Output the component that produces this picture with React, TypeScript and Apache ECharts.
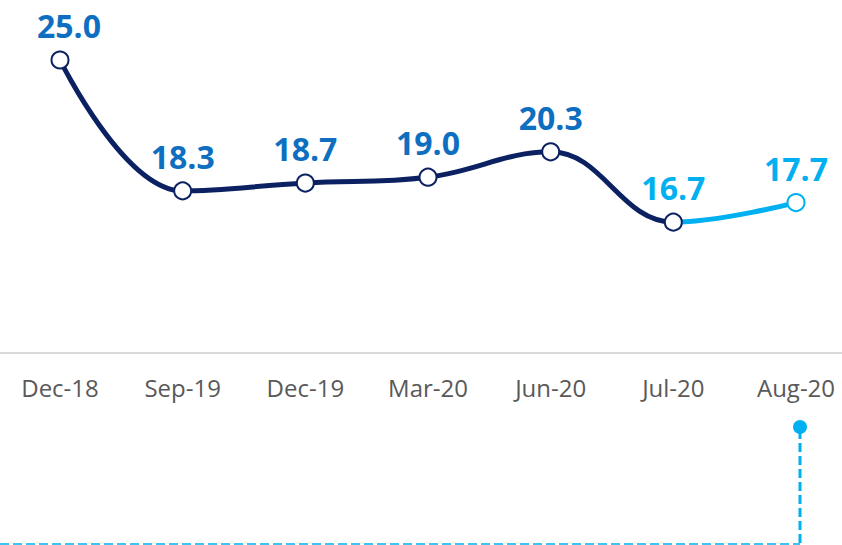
import React, { useEffect, useRef } from "react";
import * as echarts from "echarts";

const categories = ["Dec-18", "Sep-19", "Dec-19", "Mar-20", "Jun-20", "Jul-20", "Aug-20"];
const values = [25.0, 18.3, 18.7, 19.0, 20.3, 16.7, 17.7];
const highlightFrom = 5; // Jul-20 onwards labels in light blue, line segment after index 5 light blue

const NAVY = "#0b2161";
const LIGHT = "#00b0f0";
const LABEL_DARK = "#0e6fc1";

export default function App() {
  const ref = useRef<HTMLDivElement>(null);
  useEffect(() => {
    document.body.style.margin = "0";
    const chart = echarts.init(ref.current!, undefined, { renderer: "svg" });
    chart.setOption({
      animation: false,
      grid: { left: 60, right: 46, top: 60, bottom: 192, containLabel: false },
      xAxis: {
        type: "category",
        data: categories,
        boundaryGap: false,
        axisLine: { show: false },
        axisTick: { show: false },
        axisLabel: {
          color: "#595959",
          fontFamily: "Open Sans",
          fontSize: 24,
          margin: 22,
        },
        splitLine: { show: false },
      },
      yAxis: { type: "value", min: 10, max: 25, show: false, splitLine: { show: false } },
      visualMap: {
        show: false,
        dimension: 0,
        pieces: [
          { lt: highlightFrom, color: NAVY },
          { gte: highlightFrom, lte: highlightFrom, color: NAVY },
          { gt: highlightFrom, color: LIGHT },
        ],
      },
      series: [
        {
          type: "line",
          smooth: 0.4,
          clip: false,
          data: values.map((v, i) => ({
            value: v,
            label: {
              color: i >= highlightFrom ? LIGHT : LABEL_DARK,
              offset: i === 0 ? [9, 0] : [0, 0],
            },
          })),
          lineStyle: { width: 5 },
          symbol: "emptyCircle",
          symbolSize: 17,
          itemStyle: { borderWidth: 3 },
          label: {
            show: true,
            position: "top",
            distance: 9,
            fontFamily: "Open Sans",
            fontWeight: "bold",
            fontSize: 32,
            formatter: (p: any) => Number(p.value).toFixed(1),
          },
          z: 3,
        },
      ],
      graphic: [
        {
          type: "line",
          z: 0,
          shape: { x1: 0, y1: 353, x2: 842, y2: 353 },
          style: { stroke: "#d9d9d9", lineWidth: 2 },
        },
        { type: "circle", shape: { cx: 800, cy: 427, r: 7 }, style: { fill: LIGHT } },
        {
          type: "line",
          shape: { x1: 800, y1: 430, x2: 800, y2: 544 },
          style: { stroke: LIGHT, lineWidth: 3, lineDash: [9, 4] },
        },
        {
          type: "line",
          shape: { x1: 0, y1: 544, x2: 800, y2: 544 },
          style: { stroke: LIGHT, lineWidth: 1.5, lineDash: [9, 4] },
        },
      ],
    });
    return () => chart.dispose();
  }, []);
  return <div ref={ref} style={{ position: "absolute", left: 0, top: 0, width: 842, height: 545 }} />;
}
